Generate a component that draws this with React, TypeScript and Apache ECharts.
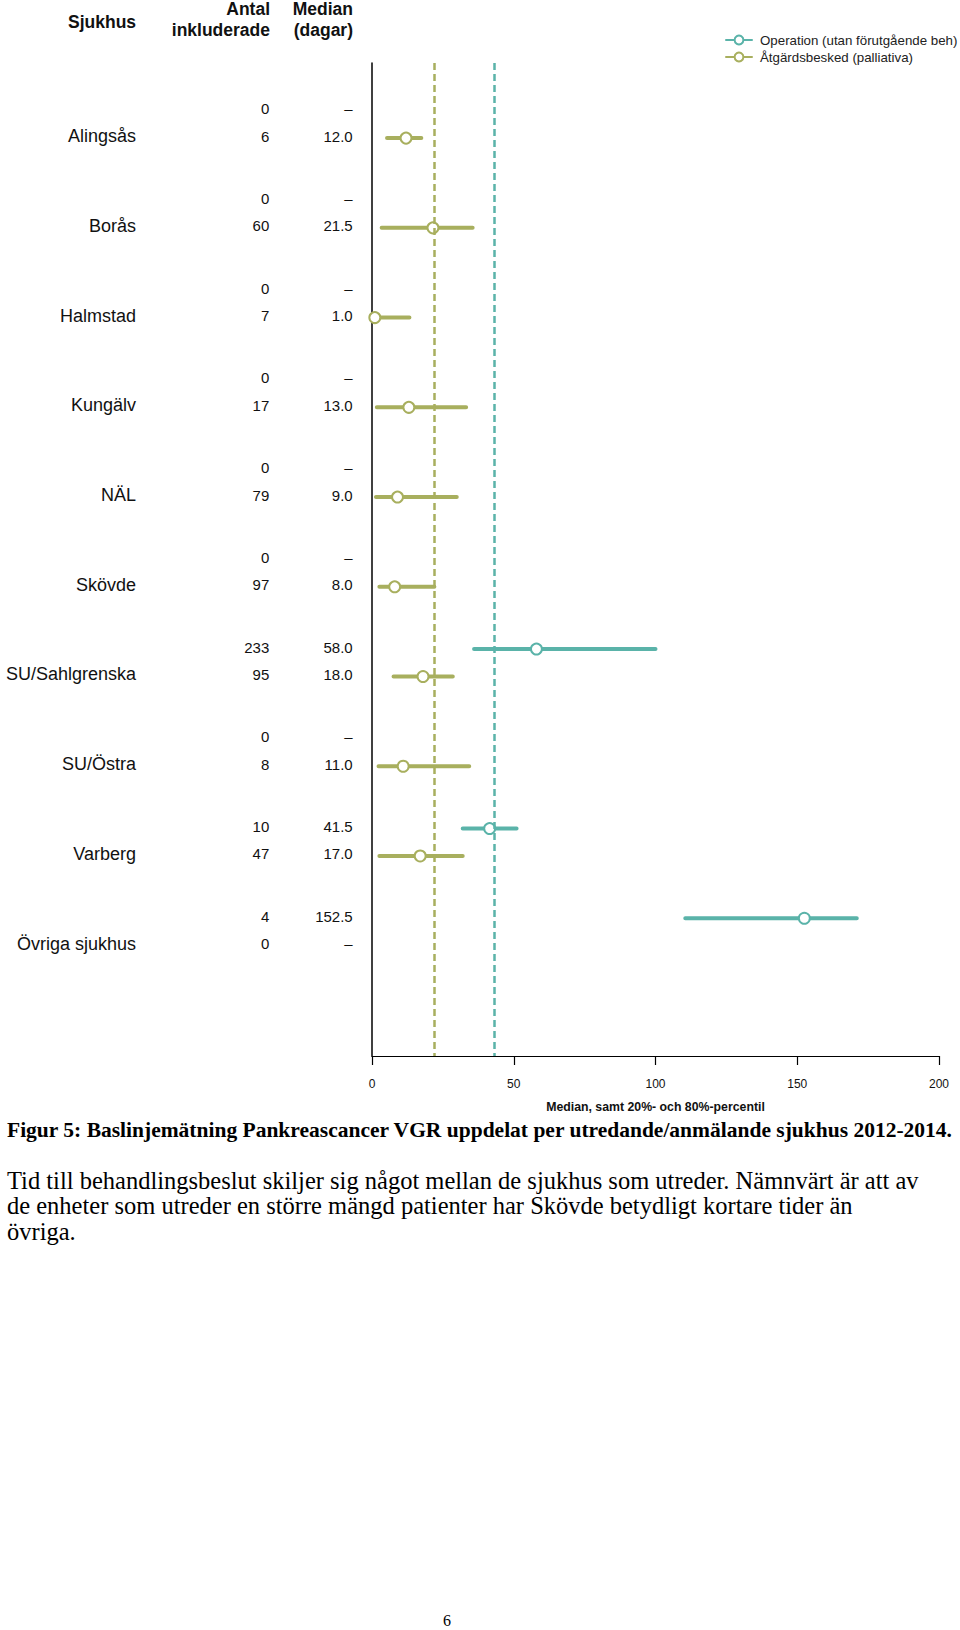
import React, { useEffect, useRef } from "react";
import * as echarts from "echarts";

// ---------- data ----------
const hospitals = [
  "Alingsås",
  "Borås",
  "Halmstad",
  "Kungälv",
  "NÄL",
  "Skövde",
  "SU/Sahlgrenska",
  "SU/Östra",
  "Varberg",
  "Övriga sjukhus",
];

// Operation (utan förutgående beh)
const opCount = [0, 0, 0, 0, 0, 0, 233, 0, 10, 4];
const opMedian: (number | null)[] = [null, null, null, null, null, null, 58.0, null, 41.5, 152.5];
const opP20: (number | null)[] = [null, null, null, null, null, null, 36, null, 32, 110.5];
const opP80: (number | null)[] = [null, null, null, null, null, null, 100, null, 51, 171];

// Åtgärdsbesked (palliativa)
const atCount = [6, 60, 7, 17, 79, 97, 95, 8, 47, 0];
const atMedian: (number | null)[] = [12.0, 21.5, 1.0, 13.0, 9.0, 8.0, 18.0, 11.0, 17.0, null];
const atP20: (number | null)[] = [5.3, 3.4, 0.5, 1.7, 1.4, 2.6, 7.6, 2.3, 2.6, null];
const atP80: (number | null)[] = [17.4, 35.5, 13.2, 33.2, 29.9, 22.0, 28.5, 34.3, 32.0, null];

// overall medians (dashed reference lines)
const opReference = 43;
const atReference = 22;

const xTicks = [0, 50, 100, 150, 200];

const OP_NAME = "Operation (utan förutgående beh)";
const AT_NAME = "Åtgärdsbesked (palliativa)";

const headerSjukhus = "Sjukhus";
const headerAntal = ["Antal", "inkluderade"];
const headerMedian = ["Median", "(dagar)"];
const xAxisTitle = "Median, samt 20%- och 80%-percentil";

const captionText =
  "Figur 5: Baslinjemätning Pankreascancer VGR uppdelat per utredande/anmälande sjukhus 2012-2014.";
const paragraphLines = [
  "Tid till behandlingsbeslut skiljer sig något mellan de sjukhus som utreder. Nämnvärt är att av",
  "de enheter som utreder en större mängd patienter har Skövde betydligt kortare tider än",
  "övriga.",
];
const pageNumber = "6";

// ---------- styles ----------
const TEAL = "#5AB3A9";
const OLIVE = "#A8AF5E";
const SANS = '"Liberation Sans", Arial, sans-serif';
const NARROW = '"Liberation Sans Narrow", "Liberation Sans", Arial, sans-serif';
const SERIF = '"Liberation Serif", "DejaVu Serif", serif';
const ROW_OFFSET = 0.153;
const ROW_PX = 27.4;

function fmtMedian(v: number | null) {
  return v == null ? "–" : v.toFixed(1);
}

function rangeData(
  p20: (number | null)[],
  med: (number | null)[],
  p80: (number | null)[],
  offset: number
) {
  const out: any[] = [];
  hospitals.forEach((_, i) => {
    if (med[i] == null) return;
    const y = i + offset;
    out.push({ value: [p20[i], y], symbol: "none" });
    out.push({ value: [med[i], y] });
    out.push({ value: [p80[i], y], symbol: "none" });
    out.push({ value: ["-", "-"], symbol: "none" });
  });
  return out;
}

function buildOption() {
  const textAxisBase = {
    type: "category",
    gridIndex: 1,
    inverse: true,
    position: "left",
    data: hospitals,
    axisLine: { show: false },
    axisTick: { show: false },
    splitLine: { show: false },
  };

  const lineSeries = (
    name: string,
    color: string,
    p20: (number | null)[],
    med: (number | null)[],
    p80: (number | null)[],
    offset: number,
    ref: number
  ) => ({
    name,
    type: "line",
    xAxisIndex: 0,
    yAxisIndex: 0,
    data: rangeData(p20, med, p80, offset),
    symbol: "emptyCircle",
    symbolSize: 11,
    showSymbol: true,
    connectNulls: false,
    itemStyle: { color, borderWidth: 3 },
    lineStyle: { color, width: 4, cap: "round" },
    emphasis: { disabled: true },
    z: 3,
    markLine: {
      silent: true,
      symbol: ["none", "none"],
      label: { show: false },
      lineStyle: { color, type: [7, 4], width: 2.5 },
      emphasis: { disabled: true },
      data: [{ xAxis: ref }],
    },
  });

  const legendBase = {
    left: 725,
    orient: "vertical",
    padding: 0,
    itemWidth: 26,
    itemHeight: 11,
    itemGap: 6,
    selectedMode: false,
    textStyle: { fontSize: 13.3, color: "#222", fontFamily: SANS, padding: [0, 0, 0, 3] },
  };

  return {
    animation: false,
    backgroundColor: "#ffffff",
    legend: [
      { ...legendBase, top: 33.5, data: [OP_NAME] },
      { ...legendBase, top: 50.5, data: [AT_NAME] },
    ],
    grid: [
      { left: 372, right: 21, top: 63, bottom: 574 },
      { left: 372, right: 21, top: 77.5, bottom: 655.1 },
    ],
    xAxis: [
      {
        type: "value",
        gridIndex: 0,
        min: xTicks[0],
        max: xTicks[xTicks.length - 1],
        interval: xTicks[1] - xTicks[0],
        axisLine: { show: true, onZero: false, lineStyle: { color: "#000", width: 1.2 } },
        axisTick: { show: true, length: 9, lineStyle: { color: "#000", width: 1.2 } },
        axisLabel: { margin: 22, fontSize: 12, color: "#111", fontFamily: SANS },
        splitLine: { show: false },
        name: xAxisTitle,
        nameLocation: "middle",
        nameGap: 45,
        nameTextStyle: { fontWeight: "bold", fontSize: 12.3, color: "#111", fontFamily: SANS },
      },
      { type: "value", gridIndex: 1, show: false },
    ],
    yAxis: [
      {
        type: "value",
        gridIndex: 0,
        inverse: true,
        min: -0.684,
        max: 10.382,
        axisLine: { show: true, onZero: false, lineStyle: { color: "#000", width: 1.5 } },
        axisTick: { show: false },
        axisLabel: { show: false },
        splitLine: { show: false },
      },
      {
        ...textAxisBase,
        axisLabel: {
          interval: 0,
          margin: 236,
          fontSize: 18,
          lineHeight: ROW_PX,
          color: "#111",
          fontFamily: SANS,
          formatter: (v: string) => ` \n${v}`,
        },
      },
      {
        ...textAxisBase,
        axisLabel: {
          interval: 0,
          margin: 102.7,
          fontSize: 15,
          lineHeight: ROW_PX,
          color: "#111",
          fontFamily: NARROW,
          formatter: (_v: string, i: number) => `${opCount[i]}\n${atCount[i]}`,
        },
      },
      {
        ...textAxisBase,
        axisLabel: {
          interval: 0,
          margin: 19.3,
          fontSize: 15,
          lineHeight: ROW_PX,
          color: "#111",
          fontFamily: NARROW,
          formatter: (_v: string, i: number) => `${fmtMedian(opMedian[i])}\n${fmtMedian(atMedian[i])}`,
        },
      },
    ],
    series: [
      lineSeries(OP_NAME, TEAL, opP20, opMedian, opP80, -ROW_OFFSET, opReference),
      lineSeries(AT_NAME, OLIVE, atP20, atMedian, atP80, ROW_OFFSET, atReference),
    ],
    graphic: [
      {
        type: "text",
        x: 68,
        y: 22,
        style: { text: headerSjukhus, align: "left", verticalAlign: "middle", fontSize: 17.5, fontWeight: "bold", fontFamily: SANS, fill: "#111" },
      },
      {
        type: "text",
        x: 270,
        y: 9,
        style: { text: headerAntal[0], align: "right", verticalAlign: "middle", fontSize: 17.5, fontWeight: "bold", fontFamily: SANS, fill: "#111" },
      },
      {
        type: "text",
        x: 270,
        y: 30,
        style: { text: headerAntal[1], align: "right", verticalAlign: "middle", fontSize: 17.5, fontWeight: "bold", fontFamily: SANS, fill: "#111" },
      },
      {
        type: "text",
        x: 353,
        y: 9,
        style: { text: headerMedian[0], align: "right", verticalAlign: "middle", fontSize: 17.5, fontWeight: "bold", fontFamily: SANS, fill: "#111" },
      },
      {
        type: "text",
        x: 353,
        y: 30,
        style: { text: headerMedian[1], align: "right", verticalAlign: "middle", fontSize: 17.5, fontWeight: "bold", fontFamily: SANS, fill: "#111" },
      },
      {
        type: "text",
        x: 7,
        y: 1130,
        style: { text: captionText, align: "left", verticalAlign: "middle", fontSize: 21.5, fontWeight: "bold", fontFamily: SERIF, fill: "#000" },
      },
      ...paragraphLines.map((t, i) => ({
        type: "text",
        x: 7,
        y: 1180 + i * 25.5,
        style: { text: t, align: "left", verticalAlign: "middle", fontSize: 24.5, fontFamily: SERIF, fill: "#000" },
      })),
      {
        type: "text",
        x: 447,
        y: 1620,
        style: { text: pageNumber, align: "center", verticalAlign: "middle", fontSize: 16, fontFamily: SERIF, fill: "#000" },
      },
    ],
  };
}

export default function App() {
  const ref = useRef<HTMLDivElement>(null);
  useEffect(() => {
    if (!ref.current) return;
    document.body.style.margin = "0";
    const chart = echarts.init(ref.current, null, { renderer: "svg" });
    chart.setOption(buildOption() as any);
    return () => chart.dispose();
  }, []);
  return (
    <div
      ref={ref}
      style={{ position: "absolute", left: 0, top: 0, width: 960, height: 1630, background: "#fff" }}
    />
  );
}
